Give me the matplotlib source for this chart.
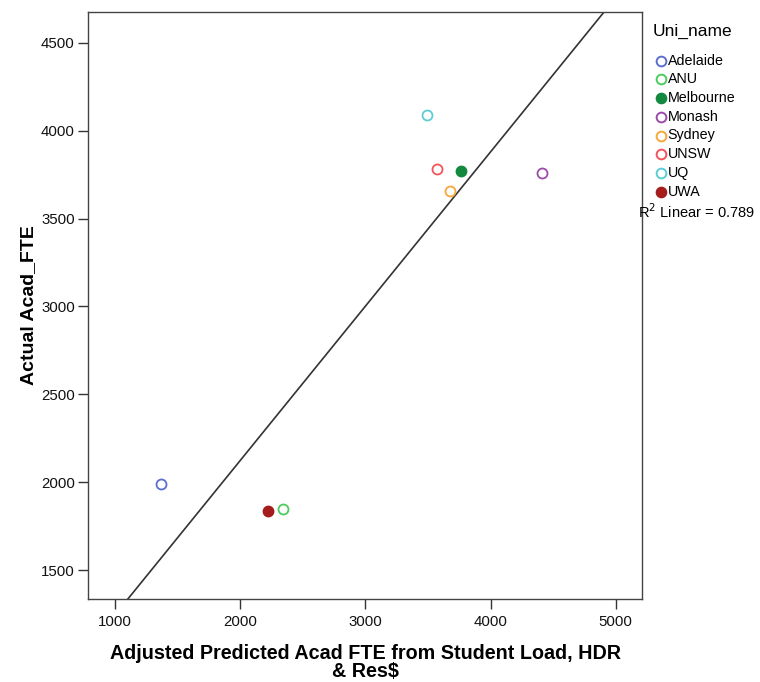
import numpy as np
import matplotlib
matplotlib.use("Agg")
import matplotlib.pyplot as plt
from matplotlib.lines import Line2D

plt.rcParams['font.family'] = ['Liberation Sans', 'DejaVu Sans']

unis = ["Adelaide", "ANU", "Melbourne", "Monash", "Sydney", "UNSW", "UQ", "UWA"]
predicted = [1367, 2341, 3761, 4408, 3674, 3570, 3490, 2221]
actual = [1989, 1847, 3773, 3761, 3659, 3784, 4091, 1835]
colors = ["#5b6fd0", "#4ccb5f", "#13893f", "#9b4cab", "#f9a63b", "#f2545b", "#5ccdd5", "#a51c1c"]
filled = [False, False, True, False, False, False, False, True]
xticks = [1000, 2000, 3000, 4000, 5000]
yticks = [1500, 2000, 2500, 3000, 3500, 4000, 4500]

W, H = 760, 682
fig = plt.figure(figsize=(W / 100, H / 100), dpi=100)
ax = fig.add_axes([88 / W, 1 - 599 / H, (642 - 88) / W, (599 - 12) / H])

for x, y, c, f in zip(predicted, actual, colors, filled):
    ax.plot(x, y, 'o', ms=7.2, mec=c, mfc=c if f else 'white', mew=1.3, zorder=3)

xlim = (785, 5210)
ylim = (1335, 4676)
ax.set_xlim(*xlim)
ax.set_ylim(*ylim)

slope, intercept = np.polyfit(predicted, actual, 1)
xs = np.array(xlim)
ax.plot(xs, slope * xs + intercept, color="#333333", lw=1.2, zorder=2)

ax.set_xticks(xticks)
ax.set_yticks(yticks)
ax.tick_params(direction='out', length=7, width=1, colors='#333333', labelcolor='#111111',
               labelsize=10.8, pad=2.5)
ax.tick_params(axis='x', pad=4.5)
for s in ax.spines.values():
    s.set_color('#444444')
    s.set_linewidth(1.0)

ax.set_xlabel("Adjusted Predicted Acad FTE from Student Load, HDR\n& Res$", fontsize=14.2, fontweight='bold',
              linespacing=0.97, labelpad=10.5)
ax.set_ylabel("Actual Acad_FTE", fontsize=14, fontweight='bold', labelpad=3)

# legend (drawn manually for exact placement)
fig.text(653 / W, 1 - 31.5 / H, "Uni_name", fontsize=12.5, va='center', ha='left')
for i, (u, c, f) in enumerate(zip(unis, colors, filled)):
    ypx = 60.7 + i * 18.7
    fig.add_artist(Line2D([660.5 / W], [1 - ypx / H], marker='o', ls='', ms=7, mec=c,
                          mfc=c if f else 'white', mew=1.4, transform=fig.transFigure))
    fig.text(667.5 / W, 1 - ypx / H, u, fontsize=10.3, va='center', ha='left')

fig.text(638 / W, 1 - 212 / H, "R$^2$ Linear = 0.789", fontsize=10.5, va='center', ha='left')

fig.savefig("out.png", dpi=100, facecolor='white')
